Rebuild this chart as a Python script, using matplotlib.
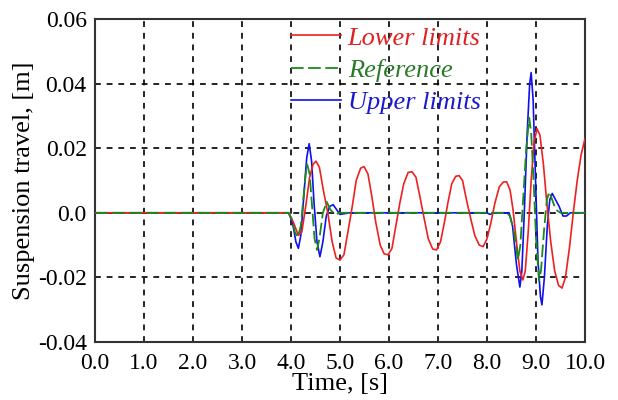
import matplotlib
matplotlib.use('Agg')
import numpy as np
import matplotlib.pyplot as plt

# values (time in s, travel in m)
t_lower = [0.0, 3.95, 4.05, 4.15, 4.22, 4.30, 4.38, 4.45, 4.51, 4.58, 4.66, 4.75, 4.84,
           4.92, 5.00, 5.08, 5.16, 5.25, 5.33, 5.42, 5.49, 5.57, 5.65, 5.73, 5.82, 5.90,
           5.98, 6.06, 6.14, 6.22, 6.30, 6.39, 6.47, 6.55, 6.63, 6.72, 6.80, 6.89, 6.97,
           7.05, 7.13, 7.20, 7.28, 7.36, 7.43, 7.50, 7.58, 7.67, 7.75, 7.84, 7.92, 8.00,
           8.08, 8.16, 8.25, 8.33, 8.40, 8.47, 8.53, 8.60, 8.67, 8.73, 8.78, 8.84, 8.90,
           8.96, 9.02, 9.08, 9.15, 9.22, 9.30, 9.38, 9.46, 9.53, 9.60, 9.68, 9.76, 9.84,
           9.92, 10.0]
v_lower = [0.0, 0.0, -0.003, -0.007, -0.006, 0.002, 0.011, 0.015, 0.016, 0.014, 0.007, 0.0,
           -0.009, -0.014, -0.0146, -0.013, -0.006, 0.002, 0.010, 0.0138, 0.0143, 0.012,
           0.005, -0.003, -0.010, -0.0127, -0.013, -0.011, -0.004, 0.003, 0.009, 0.0125,
           0.0127, 0.011, 0.005, -0.002, -0.008, -0.0112, -0.0115, -0.009, -0.003, 0.003,
           0.009, 0.0113, 0.0115, 0.010, 0.004, -0.002, -0.007, -0.010, -0.0105, -0.008,
           -0.003, 0.003, 0.008, 0.0095, 0.0096, 0.007, 0.001, -0.009, -0.018, -0.0208,
           -0.018, -0.006, 0.010, 0.022, 0.026, 0.024, 0.015, 0.003, -0.009, -0.018,
           -0.0225, -0.0233, -0.020, -0.011, 0.0, 0.010, 0.018, 0.023]

t_ref = [0.0, 3.95, 4.02, 4.08, 4.14, 4.20, 4.25, 4.30, 4.33, 4.38, 4.43, 4.48, 4.53, 4.58,
         4.65, 4.73, 4.80, 4.90, 5.00, 8.40, 8.47, 8.55, 8.63, 8.68, 8.74, 8.80, 8.86, 8.90,
         8.95, 9.00, 9.06, 9.10, 9.16, 9.22, 9.27, 9.33, 9.40, 9.50, 10.0]
v_ref = [0.0, 0.0, -0.002, -0.006, -0.0075, -0.004, 0.004, 0.012, 0.015, 0.012, 0.002,
         -0.008, -0.0115, -0.008, 0.0, 0.0034, 0.001, -0.0005, 0.0, 0.0, -0.001, -0.006,
         -0.0146, -0.010, 0.005, 0.020, 0.0294, 0.025, 0.010, -0.008, -0.021, -0.018,
         -0.006, 0.004, 0.0065, 0.004, 0.001, 0.0, 0.0]

t_upper = [0.0, 3.95, 4.03, 4.10, 4.15, 4.20, 4.26, 4.32, 4.37, 4.42, 4.47, 4.53, 4.59, 4.65,
           4.72, 4.79, 4.86, 4.93, 5.00, 5.20, 8.00, 8.06, 8.15, 8.45, 8.52, 8.60, 8.67,
           8.71, 8.76, 8.82, 8.87, 8.90, 8.94, 8.99, 9.04, 9.09, 9.12, 9.17, 9.23, 9.28,
           9.33, 9.40, 9.47, 9.55, 9.62, 9.70, 10.0]
v_upper = [0.0, 0.0, -0.003, -0.009, -0.011, -0.007, 0.005, 0.017, 0.0214, 0.016, 0.003,
           -0.009, -0.0136, -0.009, -0.001, 0.002, 0.0025, 0.001, -0.0005, 0.0, 0.0, -0.0005,
           0.0, 0.0, -0.004, -0.016, -0.023, -0.018, 0.0, 0.025, 0.040, 0.0434, 0.035,
           0.010, -0.015, -0.026, -0.0285, -0.020, -0.004, 0.004, 0.006, 0.004, 0.002,
           -0.001, -0.001, 0.0, 0.0]

x_ticks = [0, 1, 2, 3, 4, 5, 6, 7, 8, 9, 10]
y_ticks = [-0.04, -0.02, 0.0, 0.02, 0.04, 0.06]
x_tick_labels = ['0.0', '1.0', '2.0', '3.0', '4.0', '5.0', '6.0', '7.0', '8.0', '9.0', '10.0']
y_tick_labels = ['-0.04', '-0.02', '0.0', '0.02', '0.04', '0.06']

plt.rcParams['font.family'] = ['Liberation Serif', 'DejaVu Serif']

fig = plt.figure(figsize=(6.18, 4.0), dpi=100)
ax = fig.add_axes([0.1537, 0.145, 0.793, 0.8075])

ax.plot(t_upper, v_upper, color='#1010ee', lw=1.2, zorder=3, label='Upper limits')
ax.plot(t_lower, v_lower, color='#ee2020', lw=1.2, zorder=4, label='Lower limits')
ax.plot(t_ref, v_ref, color='#1a8a1a', lw=1.3, ls=(0, (7, 2.5)), zorder=5, label='Reference')

ax.set_xlim(0, 10)
ax.set_ylim(-0.04, 0.06)
ax.set_xticks(x_ticks)
ax.set_xticklabels(x_tick_labels)
ax.set_yticks(y_ticks)
ax.set_yticklabels(y_tick_labels)
ax.tick_params(direction='in', length=0, labelsize=17)
ax.tick_params(axis='x', pad=8)
ax.tick_params(axis='y', pad=6)
ax.grid(True, color='black', ls=(0, (3.5, 3.5)), lw=1.2)
ax.set_axisbelow(True)
for s in ax.spines.values():
    s.set_color('#333333')
    s.set_linewidth(1.5)

ax.set_xlabel('Time, [s]', fontsize=19, labelpad=-1)
ax.set_ylabel('Suspension travel, [m]', fontsize=19, labelpad=2)

handles, labels = ax.get_legend_handles_labels()
order = [1, 2, 0]
leg = ax.legend([handles[i] for i in order], [labels[i] for i in order],
                loc='upper left', bbox_to_anchor=(0.4, 0.978), frameon=False,
                borderpad=0, borderaxespad=0, handlelength=1.9, handletextpad=0.25,
                labelspacing=0.33, prop={'size': 19, 'style': 'italic'})
for txt, c in zip(leg.get_texts(), ['#e02020', '#2a7a2a', '#1a1acc']):
    txt.set_color(c)

fig.savefig('out.png', dpi=100)
